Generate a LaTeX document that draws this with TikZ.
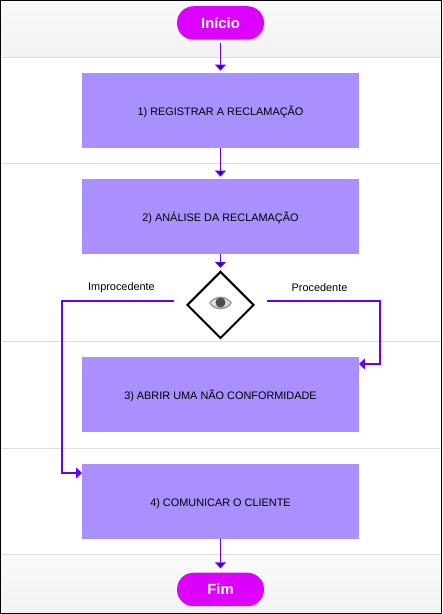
\documentclass[tikz,border=0pt]{standalone}
\usepackage{fontspec}
\setmainfont{Liberation Sans}
\usepackage{tikz}
\usetikzlibrary{arrows.meta}
\usetikzlibrary{shapes.geometric}
\definecolor{arrowpurple}{HTML}{6400FF}
\definecolor{flowbox}{HTML}{AA8FFF}
\definecolor{flowpill}{HTML}{DD00FF}
\definecolor{laneline}{HTML}{DDDDDD}
\tikzset{
    flowstep/.style={shape=rectangle, fill=flowbox, minimum width=5.54cm, minimum height=1.5cm, inner sep=0pt, text height=5.5pt, text depth=0pt, font=\fontsize{6.2pt}{8pt}\selectfont},
    flowend/.style={shape=rectangle, rounded corners=0.33cm, fill=flowpill, text=white, minimum width=1.74cm, minimum height=0.67cm, inner sep=0pt, font=\bfseries\fontsize{8.4pt}{10pt}\selectfont},
    flowlabel/.style={font=\fontsize{6.2pt}{8pt}\selectfont},
    flowarrow/.style={-{Triangle[width=0.22cm,length=0.12cm]}, draw=arrowpurple, line width=0.035cm},
    laneband/.style={top color=white!98!black, bottom color=white!95!black, draw=none},
    lanerule/.style={draw=laneline, line width=0.02cm}
}

\begin{document}
\begin{tikzpicture}
    \useasboundingbox (0,0) rectangle (8.84,12.28);
    \fill[white] (0,0) rectangle (8.84,12.28);
    \path[laneband] (0,11.13) rectangle (8.84,12.28);
    \path[laneband] (0,0) rectangle (8.84,1.19);
    \draw[lanerule] (0,11.13) -- (8.84,11.13);
    \draw[lanerule] (0,9.01) -- (8.84,9.01);
    \draw[lanerule] (0,5.45) -- (8.84,5.45);
    \draw[lanerule] (0,3.31) -- (8.84,3.31);
    \draw[lanerule] (0,1.19) -- (8.84,1.19);

    \node[flowend] (inicio) at (4.41,11.82) {Início};
    \node[flowstep] (registrar) at (4.41,10.07) {1) REGISTRAR A RECLAMAÇÃO};
    \node[flowstep] (analise) at (4.41,7.95) {2) ANÁLISE DA RECLAMAÇÃO};
    \node[shape=diamond, draw=black, fill=white, line width=0.04cm, minimum width=1.34cm, minimum height=1.34cm, aspect=1, inner sep=0pt] (decisao) at (4.41,6.18) {};
    \node[flowstep] (abrir) at (4.41,4.38) {3) ABRIR UMA NÃO CONFORMIDADE};
    \node[flowstep] (comunicar) at (4.41,2.25) {4) COMUNICAR O CLIENTE};
    \node[flowend] (fim) at (4.41,0.49) {Fim};

    \node[flowlabel] (improcedente) at (2.43,6.53) {Improcedente};
    \node[flowlabel] (procedente) at (6.39,6.53) {Procedente};

    \fill[gray!75] (4.18,6.22) .. controls (4.28,6.39) and (4.54,6.39) .. (4.64,6.22) .. controls (4.54,6.05) and (4.28,6.05) .. (4.18,6.22);
    \fill[gray!25] (4.22,6.22) .. controls (4.3,6.34) and (4.52,6.34) .. (4.6,6.22) .. controls (4.52,6.1) and (4.3,6.1) .. (4.22,6.22);
    \fill[black!70] (4.41,6.23) circle (0.1);

    \coordinate (improout) at (3.48,6.26);
    \coordinate (proout) at (5.34,6.26);
    \coordinate (improin) at (1.64,2.82);
    \coordinate (proin) at (7.18,5);

    \path[flowarrow, shorten <=0.06cm, shorten >=0.04cm] (inicio) edge (registrar);
    \path[flowarrow, shorten >=0.04cm] (registrar) edge (analise);
    \path[flowarrow, shorten >=0.05cm] (analise) edge (decisao);
    \path[flowarrow, shorten >=0.08cm] (comunicar) edge (fim);
    \draw[flowarrow] (improout) -- (1.24,6.26) |- (improin);
    \draw[flowarrow] (proout) -- (7.6,6.26) |- (proin);

    \draw[black, line width=0.03cm] (0.015,0.015) rectangle (8.825,12.265);
\end{tikzpicture}
\end{document}
